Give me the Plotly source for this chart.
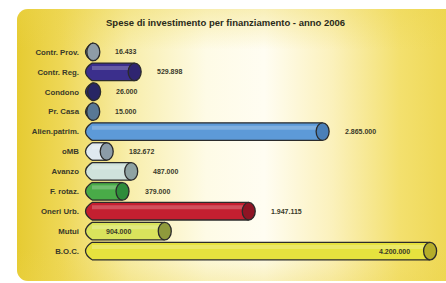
import base64
import plotly.graph_objects as go

categories = ["Contr. Prov.", "Contr. Reg.", "Condono", "Pr. Casa", "Alien.patrim.", "oMB",
              "Avanzo", "F. rotaz.", "Oneri Urb.", "Mutui", "B.O.C."]
values = [16433, 529898, 26000, 15000, 2865000, 182672, 487000, 379000, 1947115, 904000, 4200000]
value_labels = ["16.433", "529.898", "26.000", "15.000", "2.865.000", "182.672", "487.000",
                "379.000", "1.947.115", "904.000", "4.200.000"]
label_pos = ["out", "out", "out", "out", "out", "out", "out", "out", "out", "start", "end"]
bar_colors = ["#9aa6ae", "#3b2f8c", "#2f2d72", "#5f7f9c", "#5d9ad8", "#dfe9f0", "#cfe2dc",
              "#49ab48", "#c41f30", "#d9e35c", "#e6e23e"]
cap_colors = ["#8e9ca6", "#2f2570", "#282664", "#587895", "#4a7fb8", "#8c9ca8", "#8fa3a3",
              "#2f8c3a", "#8e1424", "#8f9a3c", "#b5ad2a"]
title_text = "Spese di investimento per finanziamento - anno 2006"

W, H = 446, 283
L, R, T, B = 80, 6, 42, 22
pw, ph = W - L - R, H - T - B
zero_px, scale = 92, 80.5 / 1e6  # px per unit
xmin = -(zero_px - L) / scale
xmax = (W - R - zero_px) / scale

# background panel (gradient) as svg image
svg = '''<svg xmlns="http://www.w3.org/2000/svg" width="450" height="272" viewBox="0 0 450 272" preserveAspectRatio="none">
<defs>
<linearGradient id="g" x1="0" y1="0" x2="1" y2="0">
<stop offset="0" stop-color="#e6cb32"/><stop offset="0.1" stop-color="#eed756"/>
<stop offset="0.25" stop-color="#f8eeac"/><stop offset="0.42" stop-color="#fefbe6"/>
<stop offset="0.55" stop-color="#fffdf2"/><stop offset="0.7" stop-color="#fbf1bc"/>
<stop offset="0.85" stop-color="#f3e06e"/><stop offset="1" stop-color="#ecd44a"/>
</linearGradient>
<linearGradient id="v" x1="0" y1="0" x2="0" y2="1">
<stop offset="0" stop-color="#ecd44a" stop-opacity="0.35"/><stop offset="0.15" stop-color="#ecd44a" stop-opacity="0"/>
<stop offset="0.88" stop-color="#ecd44a" stop-opacity="0"/><stop offset="1" stop-color="#ecd44a" stop-opacity="0.3"/>
</linearGradient>
</defs>
<rect x="0" y="0" width="450" height="272" rx="11" ry="11" fill="url(#g)"/>
<rect x="0" y="0" width="450" height="272" rx="11" ry="11" fill="url(#v)"/>
</svg>'''
src = "data:image/svg+xml;base64," + base64.b64encode(svg.encode()).decode()
px0, py0, px1, py1 = 17, 9, 467, 281

fig = go.Figure()
ys = list(range(len(categories)))
fig.add_trace(go.Bar(x=values, y=ys, orientation="h", width=0.88,
                     marker=dict(color=bar_colors, line=dict(width=0)), hoverinfo="skip"))

h = 0.44
hw = 6.5 / 80.5 * 1e6
shapes = []
annotations = []
for i, (v, c, cc) in enumerate(zip(values, bar_colors, cap_colors)):
    shapes.append(dict(type="path", xref="x", yref="y",
                       path=f"M 0,{i - h} Q {-2 * hw},{i} 0,{i + h}",
                       fillcolor=c, line=dict(color="#2b2b2b", width=1.3), layer="above"))
    shapes.append(dict(type="line", xref="x", yref="y", x0=0, x1=v, y0=i - h * 0.45, y1=i - h * 0.45,
                       line=dict(color="rgba(255,255,255,0.22)", width=4), layer="above"))
    for yy in (i - h, i + h):
        shapes.append(dict(type="line", xref="x", yref="y", x0=0, x1=v, y0=yy, y1=yy,
                           line=dict(color="#2b2b2b", width=1.3), layer="above"))
    shapes.append(dict(type="circle", xref="x", yref="y", x0=v - hw, x1=v + hw, y0=i - h, y1=i + h,
                       fillcolor=cc, line=dict(color="#2b2b2b", width=1.3), layer="above"))

for i, (v, t, p) in enumerate(zip(values, value_labels, label_pos)):
    if p == "out":
        annotations.append(dict(x=v, y=i, text=t, xanchor="left", xshift=20, showarrow=False))
    elif p == "start":
        annotations.append(dict(x=0, y=i, text=t, xanchor="left", xshift=12, showarrow=False))
    else:
        annotations.append(dict(x=v, y=i, text=t, xanchor="right", xshift=-18, showarrow=False))
for a in annotations:
    a.update(xref="x", yref="y", font=dict(family="Liberation Sans", size=7, color="#3a3a2a", weight="bold"))

annotations.append(dict(xref="paper", yref="paper", x=(225 - L) / pw, y=1 + (T - 22) / ph,
                        text=title_text, showarrow=False, xanchor="center", yanchor="middle",
                        font=dict(family="Liberation Sans", size=9.5, color="#2a2a1a", weight="bold")))

fig.update_layout(
    width=W, height=H, margin=dict(l=L, r=R, t=T, b=B),
    paper_bgcolor="white", plot_bgcolor="rgba(0,0,0,0)",
    showlegend=False, shapes=shapes, annotations=annotations, hovermode=False,
    images=[dict(source=src, xref="paper", yref="paper",
                 x=(px0 - L) / pw, y=1 + (T - py0) / ph,
                 sizex=(px1 - px0) / pw, sizey=(py1 - py0) / ph,
                 xanchor="left", yanchor="top", sizing="stretch", layer="below")],
    xaxis=dict(range=[xmin, xmax], visible=False, fixedrange=True),
    yaxis=dict(range=[len(categories) - 0.5, -0.5], tickvals=ys, ticktext=categories,
               showgrid=False, zeroline=False, showline=False, ticks="", fixedrange=True,
               tickfont=dict(family="Liberation Sans", size=7.8, color="#3a3a2a", weight="bold")),
)
fig.write_html("out.html", config={"displayModeBar": False, "staticPlot": True},
               post_script="document.body.style.margin='0';document.body.style.padding='0';")
